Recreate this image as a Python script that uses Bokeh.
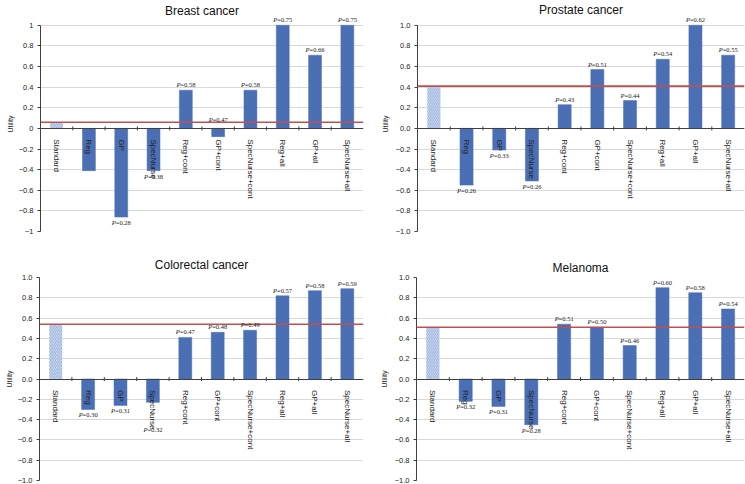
import math
from bokeh.plotting import figure
from bokeh.models import (ColumnDataSource, FactorRange, Range1d, Span, FixedTicker, LabelSet)
from bokeh.layouts import column, row
from bokeh.transform import dodge
from bokeh.embed import file_html
from bokeh.resources import INLINE

# ---------------- data ----------------
categories = ["Standard", "Reg", "GP", "SpecNurse", "Reg+cont", "GP+cont",
              "SpecNurse+cont", "Reg+all", "GP+all", "SpecNurse+all"]

titles = ["Breast cancer", "Prostate cancer", "Colorectal cancer", "Melanoma"]

breast_utility = [0.06, -0.41, -0.86, -0.41, 0.37, -0.08, 0.37, 1.00, 0.71, 1.00]
prostate_utility = [0.41, -0.55, -0.21, -0.51, 0.23, 0.57, 0.27, 0.67, 1.00, 0.71]
colorectal_utility = [0.54, -0.30, -0.26, -0.23, 0.41, 0.46, 0.48, 0.82, 0.87, 0.89]
melanoma_utility = [0.51, -0.22, -0.27, -0.45, 0.54, 0.51, 0.33, 0.90, 0.85, 0.69]

breast_p = [None, None, "0.28", "0.38", "0.58", "0.47", "0.58", "0.75", "0.66", "0.75"]
prostate_p = [None, "0.26", "0.33", "0.26", "0.43", "0.51", "0.44", "0.54", "0.62", "0.55"]
colorectal_p = [None, "0.30", "0.31", "0.32", "0.47", "0.48", "0.49", "0.57", "0.58", "0.59"]
melanoma_p = [None, "0.32", "0.31", "0.28", "0.51", "0.50", "0.46", "0.60", "0.58", "0.54"]

y_ticks = [-1, -0.8, -0.6, -0.4, -0.2, 0, 0.2, 0.4, 0.6, 0.8, 1]
breast_tick_labels = ["\u22121", "\u22120.8", "\u22120.6", "\u22120.4", "\u22120.2", "0",
                      "0.2", "0.4", "0.6", "0.8", "1"]
other_tick_labels = ["\u22121.0", "\u22120.8", "\u22120.6", "\u22120.4", "\u22120.2", "0.0",
                     "0.2", "0.4", "0.6", "0.8", "1.0"]

# ---------------- style ----------------
FONT = "Liberation Sans"
BAR = "#4a6fb5"
RED = "#c0504d"
GRID = "#d9d9d9"
AXIS = "#404040"
TEXT = "#222222"

# label placement exceptions (P label side / anchor), not data
label_exceptions = {
    ("Breast cancer", "GP+cont"): ("above", 0.03),
    ("Colorectal cancer", "SpecNurse"): ("below", -0.44),
}


def make_panel(title, vals, pvals, tick_labels, width, height,
               b_left, b_right, b_top, b_bottom, label_standoff, title_standoff,
               y_top):
    p = figure(width=width, height=height, x_range=FactorRange(*categories, range_padding=0),
               y_range=Range1d(-1, y_top), output_backend="svg", toolbar_location=None,
               min_border_left=b_left, min_border_right=b_right,
               min_border_top=b_top, min_border_bottom=b_bottom)
    p.title.text = title
    p.title.align = "center"
    p.title.text_font = FONT
    p.title.text_font_size = "12px"
    p.title.text_font_style = "normal"
    p.title.text_color = "#111111"
    p.title.standoff = title_standoff
    p.outline_line_color = None
    p.background_fill_color = "white"
    p.border_fill_color = "white"

    # grid
    p.xgrid.grid_line_color = None
    p.ygrid.grid_line_color = GRID
    p.ygrid.grid_line_width = 1

    # y axis
    yax = p.yaxis[0]
    yax.bounds = (-1, 1)
    yax.ticker = FixedTicker(ticks=y_ticks)
    yax.major_label_overrides = {t: s for t, s in zip(y_ticks, tick_labels)}
    yax.axis_label = "Utility"
    yax.axis_label_text_font = FONT
    yax.axis_label_text_font_size = "7px"
    yax.axis_label_text_font_style = "normal"
    yax.axis_label_text_color = TEXT
    yax.axis_label_standoff = label_standoff
    yax.major_label_text_font = FONT
    yax.major_label_text_font_size = "7.5px"
    yax.major_label_text_color = TEXT
    yax.major_label_standoff = 4
    yax.major_tick_in = 0
    yax.major_tick_out = 3
    yax.minor_tick_line_color = None
    yax.axis_line_color = AXIS
    yax.major_tick_line_color = AXIS

    # category axis at zero
    xax = p.xaxis[0]
    xax.fixed_location = 0
    xax.major_label_orientation = "vertical"
    xax.major_label_text_font = FONT
    xax.major_label_text_font_size = "8px"
    xax.major_label_text_color = TEXT
    xax.major_label_standoff = 5
    xax.major_tick_line_color = None
    xax.axis_line_color = AXIS

    # standard (hatched) bar and comparator bars
    std_src = ColumnDataSource(dict(cat=categories[:1], val=vals[:1]))
    oth_src = ColumnDataSource(dict(cat=categories[1:], val=vals[1:]))
    p.vbar(x="cat", top="val", bottom=0, width=0.4, source=std_src,
           fill_color="#eef2fa", line_color=None,
           hatch_pattern="left_diagonal_line", hatch_color="#8eaadb",
           hatch_scale=3.5, hatch_weight=1)
    p.vbar(x="cat", top="val", bottom=0, width=0.4, source=oth_src,
           fill_color=BAR, line_color=BAR, line_width=0.5)

    # boundary tick marks on the category axis
    bsrc = ColumnDataSource(dict(cat=categories[1:], y=[0] * (len(categories) - 1)))
    p.scatter(x=dodge("cat", -0.5, range=p.x_range), y="y", source=bsrc,
              marker="dash", angle=math.pi / 2, size=4, line_color=AXIS, line_width=1)

    # reference line at standard utility
    p.add_layout(Span(location=vals[0], dimension="width", line_color=RED, line_width=1.6))

    # P labels
    ab = dict(cat=[], y=[], txt=[])
    be = dict(cat=[], y=[], txt=[])
    for c, v, pv in zip(categories, vals, pvals):
        if pv is None:
            continue
        side, anchor = ("above", v) if v >= 0 else ("below", v)
        if (title, c) in label_exceptions:
            side, anchor = label_exceptions[(title, c)]
        d = ab if side == "above" else be
        d["cat"].append(c)
        d["y"].append(anchor)
        d["txt"].append("=" + pv)
    for d, base, yoff in ((ab, "bottom", 2), (be, "top", -2)):
        s = ColumnDataSource(dict(cat=d["cat"], y=d["y"], txt=d["txt"],
                                  pp=["P"] * len(d["cat"])))
        p.add_layout(LabelSet(x="cat", y="y", text="pp", source=s, text_font=FONT,
                              text_font_size="6.5px", text_font_style="italic",
                              text_color=TEXT, text_align="right", text_baseline=base,
                              x_offset=-5.5, y_offset=yoff))
        p.add_layout(LabelSet(x="cat", y="y", text="txt", source=s, text_font=FONT,
                              text_font_size="6.5px", text_color=TEXT,
                              text_align="left", text_baseline=base,
                              x_offset=-5.5, y_offset=yoff))
    return p


p1 = make_panel(titles[0], breast_utility, breast_p, breast_tick_labels,
                372, 242, 40, 9, 12, 9, 2, -3, 1.085)
p2 = make_panel(titles[1], prostate_utility, prostate_p, other_tick_labels,
                373, 242, 45, 1, 14, 11, 4, 0, 1.085)
p3 = make_panel(titles[2], colorectal_utility, colorectal_p, other_tick_labels,
                372, 242, 39, 9, 35, 4, 2, 11, 1.0)
p4 = make_panel(titles[3], melanoma_utility, melanoma_p, other_tick_labels,
                373, 242, 44, 1, 29, 4, 4, 5, 1.0)

layout = column(row(p1, p2), row(p3, p4))

with open("out.html", "w") as f:
    f.write(file_html(layout, INLINE))
